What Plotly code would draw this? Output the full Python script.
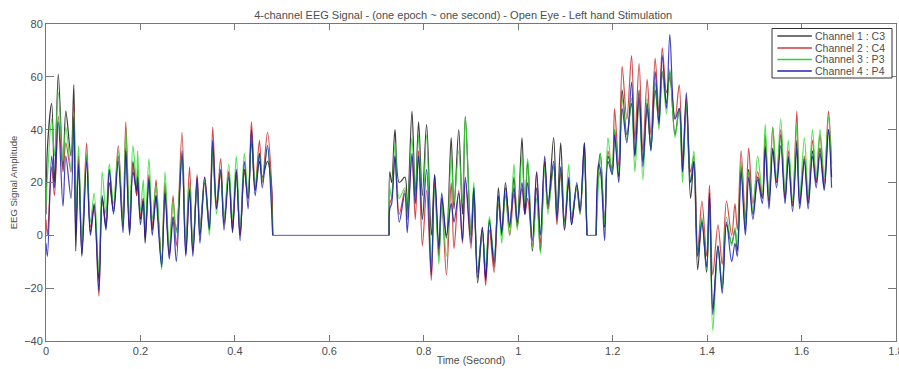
import plotly.graph_objects as go

# Time (seconds) and channel values, read at the peaks and troughs of each recording section
time_a = [0.000,.003,.012,.018,.026,.036,.042,.053,.059,.063,.069,.076,.086,.094,.102,.112,.119,.127,.134,.143,.153,.163,.169,.177,.184,.192,.194,.200,.206,.210,.218,.225,.233,.237,.245,.252,.261,.269,.276,.288,.296,.304,.311,.320,.326,.336,.346,.353,.361,.370,.377,.387,.395,.403,.411,.420,.428,.435,.443,.452,.458,.469,.477,.480]
c3_a = [8,33,50,20,61,25,47,30,57,-6,30,-8,30,1,12,-17,14,3,20,9,30,3,33,1,28,15,22,6,14,-3,22,2,15,8,-11,17,-7,7,2,30,-7,18,-6,20,0,20,3,33,10,24,4,24,1,24,0,25,14,36,17,28,22,28,20,0]
c4_a = [6,0,26,15,45,24,35,24,50,3,29,-3,35,3,11,-23,14,4,24,10,34,5,43,2,27,15,25,7,14,0,23,3,21,9,-9,20,-8,15,-4,39,-4,26,-6,23,2,22,4,41,12,29,5,24,4,24,0,24,14,43,18,36,20,39,22,0]
p3_a = [12,22,44,30,54,28,41,25,47,5,34,-2,31,5,16,-14,24,8,27,12,32,4,40,6,34,19,32,9,21,2,29,6,19,12,-13,24,-5,13,1,31,-3,20,-4,20,2,21,0,33,8,24,6,27,6,30,3,31,15,37,19,31,21,33,15,0]
p4_a = [-3,-8,30,18,43,11,30,14,45,0,27,-7,28,0,11,-21,15,2,25,8,28,1,32,0,24,17,22,4,13,-1,21,0,15,5,-12,16,-9,6,-10,32,-8,17,-8,22,-3,22,2,36,10,25,2,22,2,25,-2,28,10,40,15,31,18,34,12,0]

time_b = [.7265,.728,.732,.739,.748,.760,.765,.775,.782,.789,.797,.806,.816,.823,.832,.838,.848,.858,.864,.874,.882,.888,.900,.906,.914,.924,.931,.939,.949,.958,.965,.973,.982,.991,.998,1.008,1.014,1.020,1.030,1.039,1.047,1.056,1.063,1.075,1.082,1.090,1.098,1.107,1.113,1.124,1.131,1.140,1.1435,1.1456]
c3_b = [0,24,20,40,20,22,8,47,15,43,15,42,0,23,-8,14,-1,37,10,40,8,45,0,18,-18,2,-16,6,-12,18,0,20,3,22,4,37,8,28,-6,18,-6,28,10,37,8,35,5,21,4,19,9,35,14,0]
c4_b = [0,12,14,30,8,17,6,30,6,32,-4,17,-17,20,-7,13,-15,20,-5,17,-3,21,-5,15,-14,3,-19,2,-14,12,2,15,0,16,3,18,8,14,-4,24,-3,28,10,26,4,24,2,20,6,18,8,32,12,0]
p3_b = [0,18,14,35,14,18,6,37,14,38,6,38,-11,18,-11,12,-8,30,12,32,12,45,0,20,-13,1,-12,7,-8,14,-3,16,0,27,2,30,12,29,-5,14,-7,26,8,27,8,25,4,27,8,18,8,30,14,0]
p4_b = [0,10,12,30,5,16,1,31,12,30,6,25,-15,23,-5,16,0,12,5,16,-2,22,-3,18,-16,3,-17,5,-10,15,1,18,4,18,5,20,8,20,-2,24,0,30,12,28,6,26,2,22,4,20,9,35,12,0]

time_c = [1.165,1.170,1.174,1.183,1.190,1.199,1.204,1.213,1.220,1.230,1.240,1.247,1.256,1.264,1.273,1.281,1.290,1.298,1.305,1.314,1.321,1.332,1.341,1.348,1.356,1.365,1.372,1.380,1.389,1.399,1.405,1.412,1.423,1.432,1.441,1.452,1.459,1.464,1.472,1.481,1.488,1.497,1.507,1.517,1.523,1.531,1.539,1.547,1.556,1.565,1.572,1.581,1.590,1.596,1.606,1.614,1.623,1.631,1.639,1.648,1.657,1.6636]
c3_c = [0,26,31,3,30,25,40,22,55,38,50,30,55,28,48,33,55,43,62,50,62,38,48,24,50,14,28,-13,6,-14,14,-28,-4,-20,4,-3,2,-6,26,2,25,8,22,14,34,13,33,20,38,14,30,11,36,12,29,12,32,20,33,18,40,22]
c4_c = [0,22,24,5,32,24,48,26,64,44,68,36,65,32,59,38,67,46,71,54,60,44,57,28,52,24,30,-6,13,-8,19,-15,4,-11,13,0,12,2,32,6,33,12,24,15,38,12,41,20,40,14,32,12,47,13,30,14,36,20,38,20,47,27]
p3_c = [0,20,31,4,37,23,40,24,52,36,52,24,50,21,52,32,58,40,62,46,63,37,48,20,50,20,32,-8,7,-13,12,-36,-5,-20,7,-4,3,-4,28,3,24,9,30,16,42,14,41,22,44,16,36,13,42,14,37,15,40,22,40,22,45,25]
p4_c = [0,27,25,-2,28,23,38,20,48,35,58,30,52,26,50,32,62,42,68,48,76,44,48,24,54,20,28,-8,5,-12,16,-30,-4,-22,5,-10,-3,-8,24,0,22,6,21,12,33,10,32,18,34,12,29,9,33,10,28,10,30,18,31,17,40,18]

flat_time = [0.48, 0.7265, None, 1.1456, 1.165]
flat_value = [0, 0, None, 0, 0]

channel_names = ["Channel 1 : C3", "Channel 2 : C4", "Channel 3 : P3", "Channel 4 : P4"]
channel_colors = ["#111111", "#c8262a", "#2fdc2f", "#1a1ab4"]
legend_colors = ["#444444", "#d03a3a", "#22dd22", "#2222bb"]
x_ticks = [0, 0.2, 0.4, 0.6, 0.8, 1.0, 1.2, 1.4, 1.6, 1.8]
x_tick_labels = ["0", "0.2", "0.4", "0.6", "0.8", "1", "1.2", "1.4", "1.6", "1.8"]
y_ticks = [-40, -20, 0, 20, 40, 60, 80]

TEXT = "#4d4d4d"
FONT = "Liberation Sans"

time_all = time_a + [None] + time_b + [None] + time_c
series = [
    c3_a + [None] + c3_b + [None] + c3_c,
    c4_a + [None] + c4_b + [None] + c4_c,
    p3_a + [None] + p3_b + [None] + p3_c,
    p4_a + [None] + p4_b + [None] + p4_c,
]
for s in series:
    assert len(s) == len(time_all), len(s)

fig = go.Figure()
for name, color, values in zip(channel_names, channel_colors, series):
    fig.add_trace(go.Scatter(x=time_all, y=values, mode="lines", name=name, showlegend=False, opacity=0.82,
                             line=dict(color=color, width=1.2, shape="spline", smoothing=0.9)))
fig.add_trace(go.Scatter(x=flat_time, y=flat_value, mode="lines", showlegend=False, hoverinfo="skip",
                         line=dict(color="#5555cc", width=1)))

W, H, L, R, T, B = 899, 369, 45.5, 3.3, 24, 28
def px(x): return (x - L) / (W - L - R)
def py(y): return (H - B - y) / (H - T - B)

shapes = [dict(type="rect", xref="paper", yref="paper", x0=px(771.7), x1=px(891.7), y0=py(78), y1=py(28.5),
               line=dict(color="#333333", width=1), fillcolor="white", layer="above")]
annotations = []
for name, color, row in zip(channel_names, legend_colors, [36, 48, 59.5, 71]):
    shapes.append(dict(type="line", xref="paper", yref="paper", x0=px(777), x1=px(811.5), y0=py(row), y1=py(row),
                       line=dict(color=color, width=1.5), layer="above"))
    annotations.append(dict(xref="paper", yref="paper", x=px(812.5), y=py(row), text=name, showarrow=False,
                            xanchor="left", yanchor="middle", font=dict(family=FONT, size=10.5, color=TEXT)))

axis = dict(showgrid=False, zeroline=False, showline=True, linecolor="#777777", linewidth=1, mirror="ticks",
            ticks="inside", tickcolor="#777777", tickwidth=1,
            tickfont=dict(family=FONT, size=11, color=TEXT))
fig.update_layout(
    width=W, height=H, margin=dict(l=L, r=R, t=T, b=B, pad=0, autoexpand=False),
    paper_bgcolor="white", plot_bgcolor="white", showlegend=False,
    title=dict(text="4-channel EEG Signal - (one epoch ~ one second) - Open Eye - Left hand Stimulation",
               x=0.5152, xanchor="center", y=1 - 15 / H, yanchor="middle", font=dict(family=FONT, size=11, color=TEXT)),
    xaxis=dict(axis, range=[0, 1.8], tickvals=x_ticks, ticktext=x_tick_labels, ticklen=6, ticklabeloverflow="allow",
               title=dict(text="Time (Second)", standoff=0, font=dict(family=FONT, size=10.5, color=TEXT))),
    yaxis=dict(axis, range=[-40, 80], tickvals=y_ticks, ticklen=8,
               title=dict(text="EEG Signal Amplitude", standoff=4, font=dict(family=FONT, size=9.5, color=TEXT))),
    shapes=shapes, annotations=annotations,
)
fig.write_html("out.html", config=dict(displayModeBar=False),
               post_script="document.body.style.margin='0';document.body.style.overflow='hidden';")
